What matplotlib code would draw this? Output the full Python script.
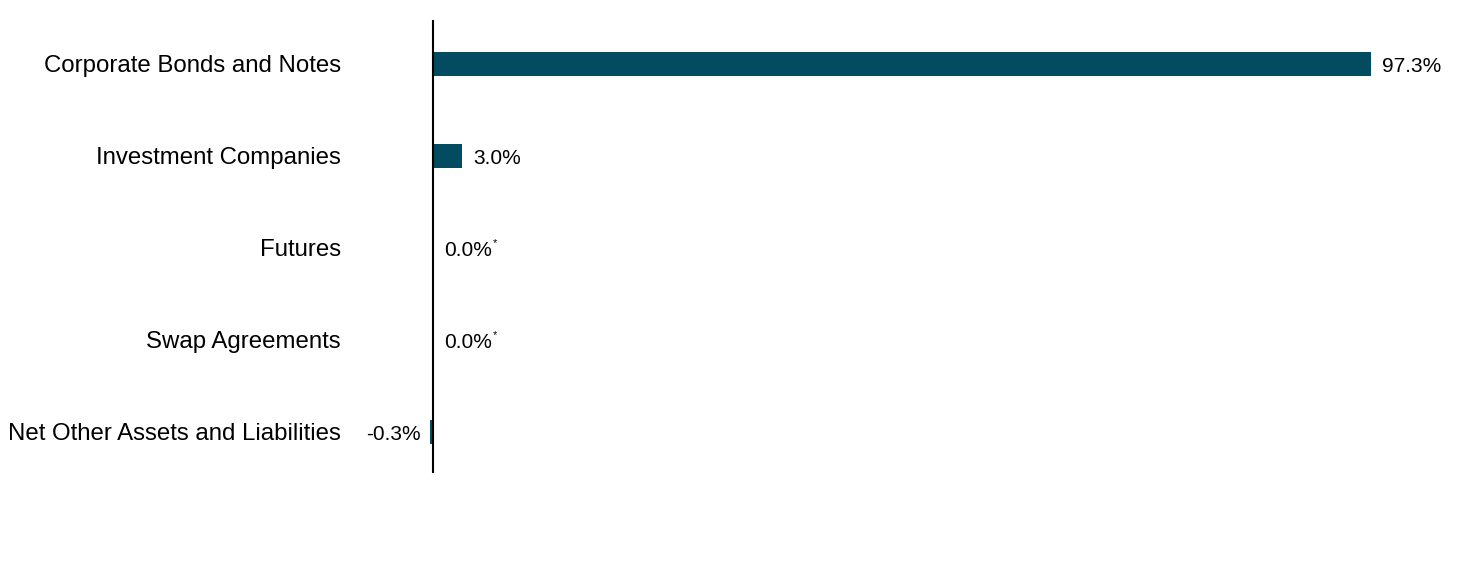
import numpy as np
import matplotlib.pyplot as plt

plt.rcParams['font.family'] = ['Liberation Sans', 'DejaVu Sans']

categories = ["Corporate Bonds and Notes", "Investment Companies", "Futures",
              "Swap Agreements", "Net Other Assets and Liabilities"]
values = [97.3, 3.0, 0.0, 0.0, -0.3]
labels = ["97.3%", "3.0%", "0.0%", "0.0%", "-0.3%"]
footnote = [False, False, True, True, False]

bar_color = "#034b61"

fig = plt.figure(figsize=(14.64, 5.64), dpi=100)
# axes placed in pixels: left 350, right 1450, top 20, bottom 473
ax = fig.add_axes([350 / 1464, 1 - 473 / 564, 1100 / 1464, 453 / 564])

y = np.arange(len(categories))
ax.barh(y, values, height=0.26, color=bar_color)

ax.set_xlim(-8.61, 105.5)
ax.set_ylim(len(categories) - 1 + 0.446, -0.478)
ax.axvline(0, color="black", linewidth=1.5)

for s in ax.spines.values():
    s.set_visible(False)
ax.set_xticks([])
ax.set_yticks(y)
ax.set_yticklabels(categories, fontsize=17.3)
ax.tick_params(axis="y", length=0, pad=6.5)

for i, v in enumerate(values):
    if v < 0:
        t = ax.annotate(labels[i], (v, i), xytext=(-7, -1.5), textcoords="offset points",
                        ha="right", va="center", fontsize=15)
    else:
        t = ax.annotate(labels[i], (v, i), xytext=(8, -1.5), textcoords="offset points",
                        ha="left", va="center", fontsize=15)
    if footnote[i]:
        ax.annotate("*", xy=(1, 1), xycoords=t, xytext=(0.5, 1.5), textcoords="offset points",
                    ha="left", va="top", fontsize=8)

plt.savefig("out.png", dpi=100)
